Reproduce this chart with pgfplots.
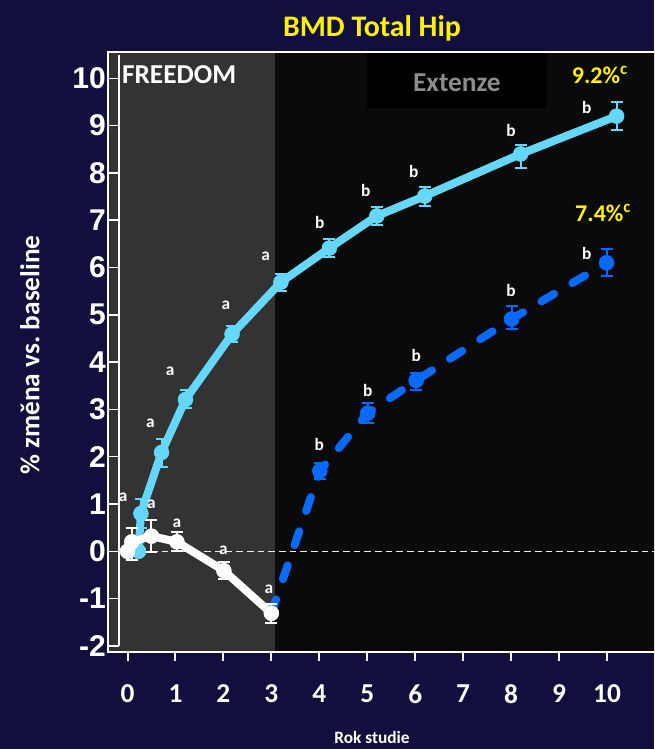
\documentclass[border=0pt]{standalone}
\usepackage{fontspec}
\setmainfont{Carlito}
\newfontfamily\arialfont{Liberation Sans}
\usepackage{pgfplots}
\pgfplotsset{compat=1.18}

\definecolor{navybg}{RGB}{17,15,61}
\definecolor{greyzone}{RGB}{51,51,51}
\definecolor{darkzone}{RGB}{10,10,10}
\definecolor{hipcyan}{RGB}{100,215,250}
\definecolor{hipblue}{RGB}{8,106,255}
\definecolor{extgray}{RGB}{140,140,140}

% denosumab long-term group
\pgfplotstableread{
x     y     ep    em
0.23  0.00  0.00  0.00
0.28  0.80  0.30  0.30
0.71  2.09  0.28  0.30
1.21  3.21  0.19  0.19
2.18  4.59  0.17  0.17
3.20  5.69  0.18  0.18
4.21  6.41  0.19  0.19
5.20  7.09  0.19  0.19
6.20  7.51  0.19  0.21
8.20  8.40  0.19  0.30
10.20 9.20  0.30  0.30
}\longterm

% crossover group (placebo in FREEDOM)
\pgfplotstableread{
x     y     ep    em
3.00  -1.31 0.00  0.00
4.01  1.70  0.17  0.17
5.01  2.92  0.21  0.21
6.02  3.61  0.17  0.21
8.01  4.91  0.28  0.22
9.99  6.10  0.29  0.29
}\crossover

\pgfplotstableread{
x     y     ep    em
0.00  0.00  0.00  0.00
0.09  0.20  0.29  0.38
0.50  0.32  0.34  0.34
1.03  0.20  0.20  0.20
2.01  -0.41 0.18  0.18
3.00  -1.31 0.20  0.20
}\placebo

\begin{document}
\begin{tikzpicture}
\useasboundingbox (0,0) rectangle (490.5pt,561.75pt);
\fill[navybg] (0,0) rectangle (490.5pt,561.75pt);
\clip (0,0) rectangle (490.5pt,561.75pt);
\begin{scope}[x=0.75pt,y=0.75pt]
\node[font=\fontsize{22.4}{26}\selectfont\bfseries, text=yellow] at (372,721) {BMD Total Hip};
\node[font=\fontsize{13}{16}\selectfont\bfseries, text=white] at (372,12) {Rok studie};
\node[font=\fontsize{20.5}{24}\selectfont\bfseries, text=white, rotate=90] at (30,394) {\% změna vs.\ baseline};
\end{scope}

\begin{axis}[
  at={(81pt,72.75pt)}, anchor=south west,
  scale only axis, width=421.5pt, height=450pt,
  xmin=-0.4067, xmax=11.314, ymin=-2.129, ymax=10.556,
  axis on top,
  axis line style={white, line width=1.5pt},
  xtick={0,...,10}, xticklabels={0,1,2,3,4,5,6,7,8,9,10},
  xtick pos=bottom, xtick align=outside,
  x tick style={white, line width=1.5pt},
  major tick length=6.75pt,
  ytick={-2,...,10}, yticklabels={-2,-1,0,1,2,3,4,5,6,7,8,9,10},
  y tick style={draw=none},
  xticklabel style={font=\fontsize{20.5}{24}\selectfont\bfseries, text=white, yshift=-14pt},
  yticklabel style={font=\arialfont\fontsize{22.5}{26}\selectfont\bfseries, text=white, inner sep=1.5pt},
  every axis plot/.append style={line join=round},
]
% study phases
\fill[greyzone] (axis cs:-0.5,-2.3) rectangle (axis cs:3.076,10.7);
\fill[darkzone] (axis cs:3.076,-2.3) rectangle (axis cs:11.5,10.7);
\fill[black] (axis cs:4.99,9.37) rectangle (axis cs:8.75,10.7);
\node[font=\fontsize{20.5}{24}\selectfont\bfseries, text=extgray] at (axis cs:6.87,9.91) {Extenze};
\node[font=\fontsize{20.5}{24}\selectfont\bfseries, text=white, anchor=west, inner sep=0pt] at (axis cs:-0.12,10.07) {FREEDOM};

% inner vertical axis with its ticks
\draw[white, line width=1.1pt] (axis cs:-0.177,10.5) -- (axis cs:-0.177,-2);
\pgfplotsinvokeforeach{-2,...,10}{
  \draw[white, line width=1.1pt] (axis cs:-0.41,#1) -- (axis cs:-0.177,#1);
}
% baseline
\draw[white!85!gray, line width=1pt, dash pattern=on 5pt off 3pt] (axis cs:-0.177,0) -- (axis cs:11.5,0);

\addplot[hipblue, line width=6pt, line cap=round, dash pattern=on 11pt off 16pt,
  mark=*, mark size=5.6pt, mark options={solid, fill=hipblue, line width=0.4pt},
  error bars/.cd, y dir=both, y explicit,
  error bar style={solid, line width=1.5pt, hipblue},
  error mark options={rotate=90, mark size=4.5pt, line width=1.5pt, hipblue}]
  table[x=x, y=y, y error plus=ep, y error minus=em] {\crossover};

\addplot[hipcyan, line width=6pt,
  mark=*, mark size=5.6pt, mark options={fill=hipcyan, line width=0.4pt},
  error bars/.cd, y dir=both, y explicit,
  error bar style={line width=1.5pt, hipcyan},
  error mark options={rotate=90, mark size=4.5pt, line width=1.5pt, hipcyan}]
  table[x=x, y=y, y error plus=ep, y error minus=em] {\longterm};

\addplot[white, line width=6pt,
  mark=*, mark size=5.6pt, mark options={fill=white, line width=0.4pt},
  error bars/.cd, y dir=both, y explicit,
  error bar style={line width=1.5pt, white},
  error mark options={rotate=90, mark size=4.5pt, line width=1.5pt, white}]
  table[x=x, y=y, y error plus=ep, y error minus=em] {\placebo};

% significance letters
\begin{scope}[every node/.style={font=\fontsize{13}{15}\selectfont\bfseries, text=white, inner sep=0pt}]
\node at (axis cs:-0.09,1.15) {a};
\node at (axis cs:0.50,1.00) {a};
\node at (axis cs:1.03,0.59) {a};
\node at (axis cs:2.00,0.03) {a};
\node at (axis cs:2.95,-0.80) {a};
\node at (axis cs:0.48,2.71) {a};
\node at (axis cs:0.89,3.80) {a};
\node at (axis cs:2.05,5.21) {a};
\node at (axis cs:2.88,6.23) {a};
\node at (axis cs:4.01,6.95) {b};
\node at (axis cs:4.97,7.62) {b};
\node at (axis cs:5.97,8.03) {b};
\node at (axis cs:8.00,8.89) {b};
\node at (axis cs:9.58,9.39) {b};
\node at (axis cs:4.00,2.25) {b};
\node at (axis cs:5.01,3.40) {b};
\node at (axis cs:6.02,4.15) {b};
\node at (axis cs:8.00,5.51) {b};
\node at (axis cs:9.58,6.30) {b};
\end{scope}
\node[font=\fontsize{18}{21}\selectfont\bfseries, text=yellow] at (axis cs:9.85,10.07) {9.2\%\textsuperscript{c}};
\node[font=\fontsize{18}{21}\selectfont\bfseries, text=yellow] at (axis cs:9.92,7.15) {7.4\%\textsuperscript{c}};
\end{axis}
\end{tikzpicture}
\end{document}
